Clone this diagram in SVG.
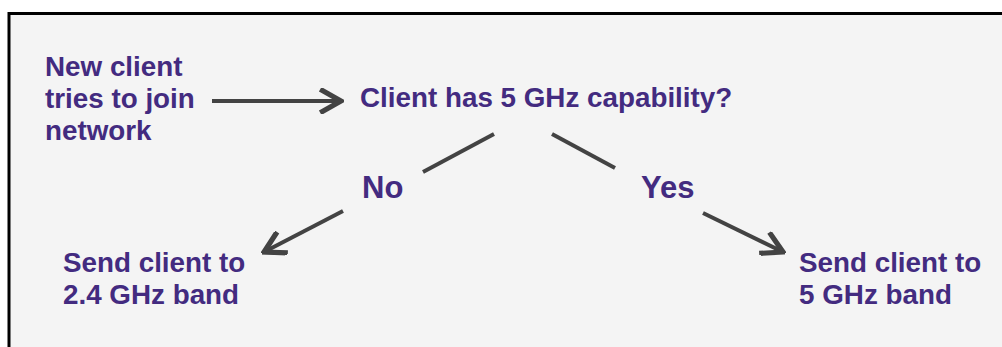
<svg xmlns="http://www.w3.org/2000/svg" width="1002" height="347" viewBox="0 0 1002 347">
<defs>
<style>
.t{font-family:"Liberation Sans",Arial,sans-serif;font-weight:bold;font-size:27.8px;fill:#432b80}
.lbl{font-size:31px}
.c{stroke:#434343;stroke-width:4;fill:none;stroke-linecap:butt}
</style>
<marker id="ah" markerUnits="userSpaceOnUse" markerWidth="26" markerHeight="26" refX="18" refY="10" orient="auto" viewBox="0 0 20 20">
<path d="M2,1 L18,10 L2,19" fill="none" stroke="#434343" stroke-width="4" stroke-linejoin="miter"/>
</marker>
</defs>
<rect x="0" y="0" width="1002" height="347" fill="#ffffff"/>
<rect x="9" y="13.5" width="1010" height="350" fill="#f4f4f4" stroke="#000" stroke-width="3"/>
<g id="connectors">
<line class="c" x1="212" y1="101" x2="341" y2="101" marker-end="url(#ah)"/>
<line class="c" x1="423" y1="172" x2="494" y2="134"/>
<line class="c" x1="552" y1="134" x2="615" y2="168"/>
<line class="c" x1="343" y1="211" x2="264" y2="252" marker-end="url(#ah)"/>
<line class="c" x1="703" y1="213" x2="783" y2="252" marker-end="url(#ah)"/>
</g>
<g id="start"><text class="t" x="45" y="76">New client</text><text class="t" x="45" y="108">tries to join</text><text class="t" x="45" y="140">network</text></g>
<g id="decision"><text class="t" x="360" y="107">Client has 5 GHz capability?</text></g>
<g id="no"><text class="t lbl" x="362" y="198">No</text></g>
<g id="yes"><text class="t lbl" x="641" y="198">Yes</text></g>
<g id="band24"><text class="t" x="63" y="272">Send client to</text><text class="t" x="63" y="304">2.4 GHz band</text></g>
<g id="band5"><text class="t" x="799" y="272">Send client to</text><text class="t" x="799" y="304">5 GHz band</text></g>
</svg>
